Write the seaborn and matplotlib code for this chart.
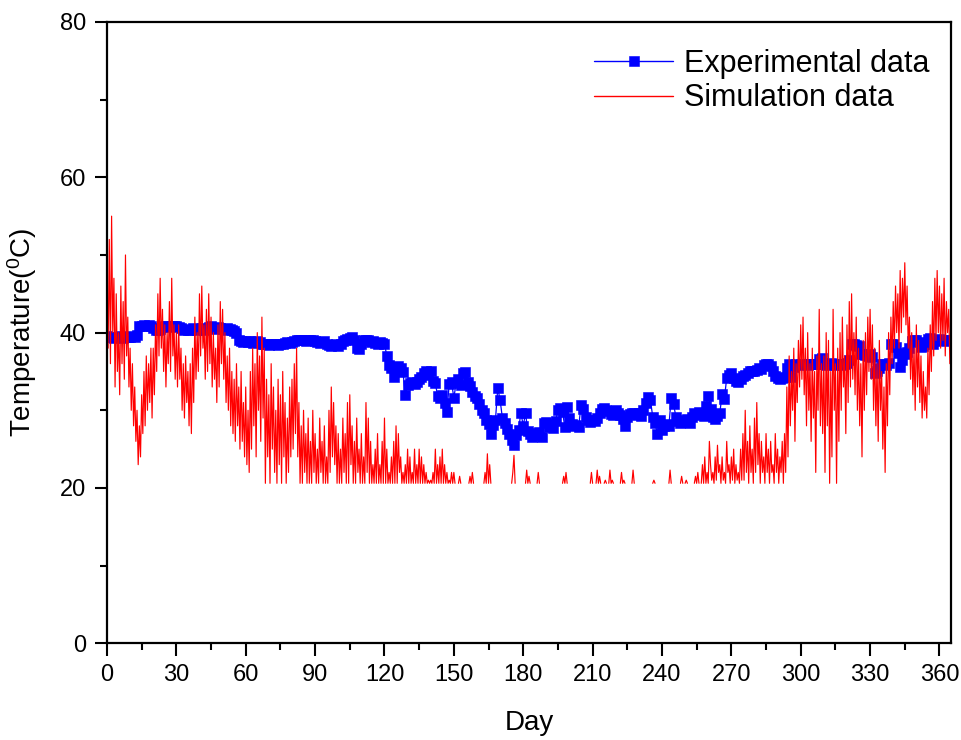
import numpy as np
import pandas as pd
import matplotlib
matplotlib.use("Agg")
import matplotlib.pyplot as plt
import seaborn as sns

N = np.nan
F = 20.6  # floor level of the simulation curve

# Experimental data: one value per day, day 0 .. 364
exp_temp = [
    39.6, 39.4, 39.5, 39.3, 39.5, 39.4, 39.6, 39.3, 39.4, 39.5,
    39.4, 39.6, 39.5, 39.7, 40.8, 40.9, 41.0, 40.9, 41.0, 40.8,
    40.6, 40.4, 40.3, 40.5, 40.7, 40.8, 40.9, 40.7, 40.8, 40.9,
    40.8, 40.7, 40.6, 40.4, 40.5, 40.3, 40.4, 40.6, 40.5, 40.4,
    40.5, 40.6, 40.4, 40.5, 40.7, 40.8, 40.6, 40.5, 40.7, 40.6,
    40.5, 40.4, 40.6, 40.5, 40.3, 40.2, 39.9, 39.0, 38.9, 38.8,
    38.9, 38.8, 38.9, 38.7, 38.8, 38.9, 38.8, 38.6, 38.5, 38.5,
    38.4, 38.5, 38.6, 38.5, 38.4, 38.5, 38.6, 38.7, 38.8, 38.7,
    38.8, 38.9, 39.0, 39.0, 39.1, 39.0, 38.9, 39.0, 39.1, 39.0,
    38.9, 38.8, 38.7, 38.8, 38.9, 38.6, 38.4, 38.3, 38.4, 38.5,
    38.3, 38.6, 38.9, 39.1, 39.2, 39.3, 39.4, 39.1, 38.0, 37.9,
    38.5, 39.0, 39.1, 39.0, 38.8, 38.9, 38.7, 38.6, 38.8, 38.7,
    38.6, 37.0, 35.8, 35.5, 34.3, 35.6, 35.7, 35.4, 34.9, 32.0,
    33.3, 33.5, 33.6, 33.4, 33.7, 34.0, 34.3, 34.8, 35.0, 34.6,
    35.0, 33.8, 33.5, 31.8, 31.6, 32.0, 30.9, 29.8, 33.4, 33.6,
    31.6, 33.5, 34.0, 33.3, 34.8, 34.9, 33.6, 33.1, 32.4, 31.9,
    31.6, 30.8, 30.1, 29.6, 28.7, 28.2, 26.9, 28.1, 28.8, 32.9,
    31.3, 29.0, 28.4, 27.6, 27.0, 26.2, 25.5, 26.8, 27.5, 29.7,
    28.0, 29.6, 27.3, 26.9, 26.6, 27.1, 26.8, 27.2, 26.5, 28.3,
    28.5, 27.9, 28.2, 27.7, 28.6, 30.0, 30.3, 29.8, 27.8, 30.4,
    29.0, 28.2, 28.0, 28.1, 27.9, 30.7, 30.2, 29.1, 28.7, 28.5,
    28.8, 28.6, 29.0, 29.7, 30.2, 30.3, 30.1, 29.9, 29.5, 29.4,
    30.0, 29.6, 29.4, 28.9, 28.0, 29.1, 29.5, 29.6, 29.7, 29.4,
    29.6, 29.3, 30.0, 31.0, 31.7, 31.3, 29.2, 28.3, 27.0, 28.7,
    27.5, 28.0, 28.2, 28.0, 31.6, 30.8, 29.2, 28.6, 28.4, 28.7,
    28.5, 28.9, 28.4, 29.1, 29.6, 29.4, 29.8, 29.6, 29.3, 30.5,
    31.9, 30.2, 29.1, 28.9, 29.3, 29.6, 32.1, 31.5, 34.2, 34.5,
    34.8, 34.2, 33.8, 33.6, 34.0, 34.4, 34.6, 34.8, 35.0, 35.1,
    35.0, 35.2, 35.5, 35.3, 35.8, 35.9, 35.9, 35.7, 35.0, 34.4,
    34.1, 34.0, 34.1, 34.3, 35.5, 35.9, 34.3, 35.6, 35.9, 35.8,
    35.9, 36.0, 35.9, 35.8, 36.0, 35.9, 35.9, 36.0, 36.6, 36.7,
    35.9, 35.8, 36.0, 36.1, 35.9, 35.8, 36.0, 36.0, 35.8, 35.9,
    36.1, 36.5, 38.5, 38.6, 38.4, 38.3, 37.3, 37.2, 37.1, 37.0,
    37.2, 36.8, 34.8, 35.0, 35.5, 35.9, 36.0, 35.8, 36.1, 38.5,
    38.6, 38.2, 37.4, 35.6, 36.5, 37.2, 37.5, 38.0, 38.9, 39.0,
    39.0, 38.8, 38.1, 38.3, 38.5, 39.2, 39.3, 38.6, 38.9, 39.1,
    39.2, 39.0, 39.1, 38.9, 39.0,
]

# Simulation data: two readings per day (half-day steps), day 0 .. 364.5
sim_temp = [
    44, 38, 52, 36, 55, 40, 47, 33, 45, 35, 40, 32, 46, 36, 44, 34, 50, 37, 42, 33,
    38, 30, 36, 28, 33, 26, 30, 23, 28, 24, 32, 27, 35, 28, 37, 30, 36, 31, 38, 29,
    38, 32, 41, 35, 45, 37, 47, 38, 43, 35, 41, 33, 40, 36, 44, 35, 47, 37, 41, 34,
    40, 33, 41, 34, 38, 30, 36, 29, 37, 31, 35, 28, 36, 27, 38, 31, 42, 34, 40, 35,
    45, 37, 46, 38, 41, 34, 43, 35, 45, 36, 42, 33, 40, 34, 38, 31, 41, 33, 44, 36,
    43, 34, 40, 31, 37, 30, 38, 28, 35, 27, 34, 26, 36, 28, 33, 25, 35, 26, 31, 24,
    33, 23, 30, 22, 35, 25, 38, 28, 36, 24, 40, 30, 37, 26, 42, 29, 38, F, 34, 24,
    32, F, 36, 25, 33, 22, 30, F, 34, 23, 32, F, 35, 24, 31, F, 29, 22, 33, 24,
    34, 25, 36, 27, 38, 24, 31, F, 28, F, 30, 22, 27, F, 29, F, 26, F, 30, 22,
    27, F, 25, F, 29, 22, 26, F, 28, F, 24, F, 30, 22, 33, 24, 31, 23, 28, F,
    27, F, 25, F, 29, 22, 27, F, 31, F, 32, 23, 28, F, 26, F, 29, 22, 25, F,
    27, F, 24, F, 31, 22, 29, F, 26, F, 23, F, 25, F, 27, F, 23, F, 26, F,
    29, F, 25, F, 22, F, 24, F, 26, F, 28, F, 27, 22, 24, F, 22, F, 23, F,
    25, F, 24, F, 22, F, 25, F, 23, F, 25, F, 24, F, 23, F, 22, F, 21, F,
    21, F, 22, F, 25, F, 23, F, 24, F, 25, F, 23, F, 22, F, 21, F, 22, F,
    22, F, N, N, F, 21.5, F, N, N, N, N, N, N, F, 21.5, F, 22, F, N, N,
    N, N, N, N, N, N, F, 22, F, 24.4, F, 23, F, N, N, N, N, N, N, N,
    N, N, N, N, N, N, N, N, N, N, F, 22, 24.2, F, N, N, N, N, N, N,
    N, N, F, 22.3, F, 21.5, F, N, N, N, N, N, F, 22, F, N, N, N, N, N,
    N, N, N, N, N, N, N, N, N, N, N, N, N, N, F, 21.5, F, 22, F, N,
    N, N, N, N, N, N, N, N, N, N, N, N, N, N, N, N, N, N, F, 22,
    F, N, N, F, 22.3, F, 21.5, F, N, N, F, 21, F, N, F, 22.3, F, 21, F, N,
    N, N, N, N, F, 22, F, 21, F, N, N, N, N, N, F, 22.3, F, N, N, N,
    N, N, N, N, N, N, N, N, N, N, N, N, F, 21, F, N, N, N, N, N,
    N, N, N, N, N, N, F, 22.3, F, N, N, N, N, N, N, N, F, 21.5, F, N,
    F, 21, F, N, N, N, N, N, F, 21.5, F, 22, F, N, F, 23, F, 24, F, 22,
    F, 26, 23, 21, 22, F, 24, 21, 25.5, 22, 23, F, 24, 21, 22, F, 26, 22, 23, F,
    24, 21, 25, F, 23, 21, 22, F, 25, 21, 27, 21, 30, 22, 26, F, 28, 22, 25, F,
    29, 22, 31, 23, 27, F, 26, 22, 24, F, 27, 22, 25, F, 26, 22, 23, F, 27, 22,
    25, F, 24, 22, 26, F, 27, 22, 33, 24, 37, 28, 35, 30, 38, 26, 36, 31, 39, 33,
    41, 34, 42, 32, 38, 28, 40, 30, 36, 26, 38, 29, 35, 22, 37, 30, 43, 28, 36, 27,
    37, 22, 40, 28, 39, F, 35, 24, 43, 30, 36, F, 38, 26, 40, 30, 42, 33, 37, 27,
    41, 31, 44, 33, 45, 34, 40, 32, 42, 30, 38, 28, 36, 24, 39, 30, 40, 32, 42, 35,
    43, 34, 41, 30, 38, 28, 36, 26, 39, 30, 35, 25, 33, 22, 36, 28, 40, 32, 42, 36,
    44, 38, 46, 40, 45, 38, 48, 40, 47, 42, 49, 41, 46, 38, 42, 34, 40, 32, 38, 30,
    41, 33, 39, 31, 37, 29, 35, 30, 33, 29, 38, 32, 41, 35, 44, 37, 47, 39, 48, 40,
    46, 38, 45, 39, 47, 37, 44, 40, 43, 36,
]

x_ticks = [0, 30, 60, 90, 120, 150, 180, 210, 240, 270, 300, 330, 360]
y_ticks = [0, 20, 40, 60, 80]
labels = ["Experimental data", "Simulation data"]

exp_df = pd.DataFrame({"day": np.arange(len(exp_temp)), "temp": exp_temp})
sim_arr = np.array(sim_temp, dtype=float)
sim_df = pd.DataFrame({"day": np.arange(len(sim_arr)) / 2.0, "temp": sim_arr})
# break the line at missing values: each continuous run gets its own unit
sim_df["seg"] = np.cumsum(np.isnan(sim_arr))
sim_df = sim_df.dropna()

sns.set_theme(style="ticks")
plt.rcParams["font.family"] = ["Liberation Sans", "DejaVu Sans"]
plt.rcParams["mathtext.fontset"] = "custom"
plt.rcParams["mathtext.rm"] = "Liberation Sans"
plt.rcParams["mathtext.it"] = "Liberation Sans"
plt.rcParams["text.color"] = "black"
plt.rcParams["axes.labelcolor"] = "black"
plt.rcParams["xtick.color"] = "black"
plt.rcParams["ytick.color"] = "black"

fig = plt.figure(figsize=(9.62, 7.40), dpi=100)
ax = fig.add_axes([0.1112, 0.1307, 0.8774, 0.8396])

sns.lineplot(data=exp_df, x="day", y="temp", ax=ax, color="#0000ff",
             marker="s", markersize=7.3, markeredgecolor="#0000ff",
             markeredgewidth=0.4, linewidth=0.9, label=labels[0])
sns.lineplot(data=sim_df, x="day", y="temp", units="seg", estimator=None,
             ax=ax, color="#ff0000", linewidth=0.85, label=labels[1],
             legend=False)

ax.set_xlim(0, 365)
ax.set_ylim(0, 80)
ax.set_xticks(x_ticks)
ax.set_xticks([15 + t for t in x_ticks[:-1]], minor=True)
ax.set_yticks(y_ticks)
ax.set_yticks([10, 30, 50, 70], minor=True)
ax.tick_params(which="major", direction="out", length=9, width=1.5,
               labelsize=17, colors="black", pad=6)
ax.tick_params(which="minor", direction="out", length=5, width=1.5)
ax.tick_params(top=False, right=False, which="both")
for s in ax.spines.values():
    s.set_visible(True)
    s.set_linewidth(1.6)
    s.set_color("black")

ax.set_xlabel("Day", fontsize=20, labelpad=17)
ax.set_ylabel("Temperature($^{0}$C)", fontsize=20, labelpad=15)

handles, lbls = ax.get_legend_handles_labels()
exp_handle = handles[lbls.index(labels[0])]
sim_handle = ax.lines[-1]
leg = ax.legend([exp_handle, sim_handle], labels, loc="upper left",
                bbox_to_anchor=(0.577, 0.957), frameon=False, fontsize=22,
                handlelength=2.6, handletextpad=0.35, labelspacing=0.15,
                borderaxespad=0, borderpad=0)
for h in leg.legend_handles:
    h.set_linewidth(1.0)

fig.savefig("out.png", dpi=100)
